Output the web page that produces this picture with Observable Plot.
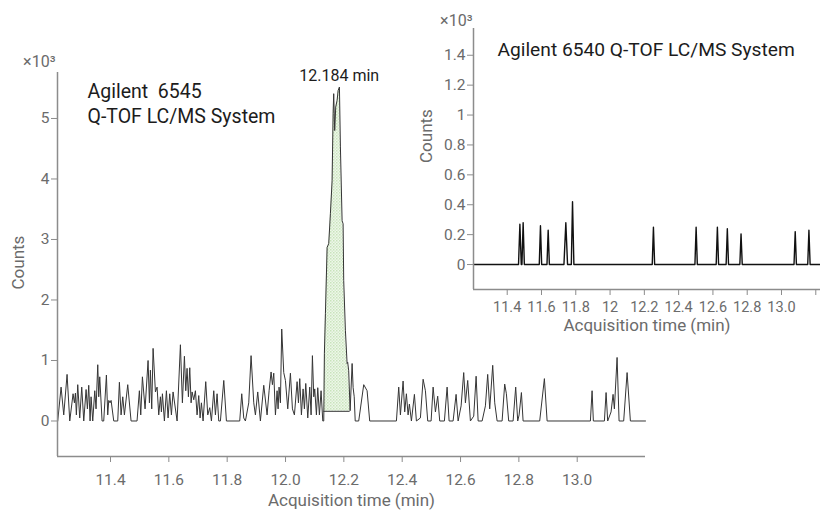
<!DOCTYPE html>
<html><head><meta charset="utf-8">
<script src="https://cdn.jsdelivr.net/npm/d3@7"></script>
<script src="https://cdn.jsdelivr.net/npm/@observablehq/plot@0.6"></script>
<style>
body{margin:0;background:#fff;}
#wrap{position:relative;width:820px;height:510px;}
#wrap svg{position:absolute;left:0;top:0;}
</style></head><body><div id="wrap"></div>
<script>
// ---- Main chromatogram (Agilent 6545), counts in thousands ----
const noiseBefore = [
[11.2191,0],[11.2306,0.56],[11.2397,0.1],[11.2511,0.77],[11.2603,0],[11.2717,0.45],[11.2763,0.3],[11.2797,0.46],[11.283,0.1],[11.2877,0.6],[11.2945,0.05],[11.3014,0.56],[11.3083,0],[11.3163,0.52],[11.3208,0.2],[11.3254,0.59],[11.33,0],[11.3334,0.4],[11.3391,0],[11.346,0.5],[11.3505,0.2],[11.3563,0.93],[11.3597,0.4],[11.3631,0.73],[11.3711,0],[11.3768,0],[11.386,0.76],[11.3905,0.1],[11.394,0.34],[11.3985,0.3],[11.402,0.34],[11.4111,0],[11.4248,0],[11.4305,0.64],[11.4363,0.1],[11.442,0.4],[11.4477,0.1],[11.4591,0.6],[11.4705,0],[11.491,0],[11.499,0.5],[11.5037,0.1],[11.5094,0.73],[11.5185,0.2],[11.5288,1.0],[11.5334,0.3],[11.5368,0.84],[11.5414,0.2],[11.546,1.2],[11.554,0.48],[11.5597,0.56],[11.5654,0.1],[11.5711,0.4],[11.5745,0.15],[11.578,0.45],[11.5848,0],[11.5917,0.5],[11.5974,0.05],[11.6031,0.45],[11.6088,0.1],[11.6145,0.48],[11.6283,0],[11.6397,1.26],[11.6465,0.3],[11.6534,1.07],[11.658,0.5],[11.6625,0.87],[11.6671,0.4],[11.6717,0.88],[11.6763,0.3],[11.6797,0.48],[11.6854,0.35],[11.6911,0.5],[11.6968,0.1],[11.7025,0.42],[11.7071,0.05],[11.7117,0.3],[11.7174,0],[11.7265,0.65],[11.7334,0.1],[11.7403,0.22],[11.746,0],[11.754,0.5],[11.7597,0.1],[11.7654,0.45],[11.7711,0],[11.7768,0],[11.7883,0.67],[11.7974,0],[11.843,0],[11.8499,0.45],[11.8568,0.05],[11.8625,0],[11.8739,0.3],[11.8819,1.08],[11.8911,0.3],[11.8968,0.1],[11.9048,0.48],[11.9139,0],[11.9254,0.59],[11.9368,0.1],[11.9437,0.5],[11.9505,0.81],[11.9551,0.6],[11.9597,0.79],[11.9654,0.1],[11.9711,0.5],[11.9745,0.2],[11.9779,0.56],[11.9825,0.3],[11.987,1.52],[11.9939,0.8],[11.9997,0.67],[12.0077,0.2],[12.0168,0.79],[12.0237,0.2],[12.0305,0.1],[12.0397,0.65],[12.0443,0.3],[12.0488,0.7],[12.0545,0.1],[12.0603,0.53],[12.0648,0.2],[12.0694,0.62],[12.0763,0.05],[12.0831,0.56],[12.0877,0.1],[12.0922,1.08],[12.0968,0.4],[12.1002,0.53],[12.1059,0.1],[12.1105,0.55],[12.1162,0.1],[12.1219,0.5],[12.1277,0],[12.1311,0]
];
const peakOutline = [
[12.1333,1.12],[12.1368,1.78],[12.1426,2.87],[12.1481,2.93],[12.1539,3.43],[12.1597,3.97],[12.1632,5.08],[12.1652,5.41],[12.1686,4.8],[12.1721,5.19],[12.1769,5.3],[12.1803,5.46],[12.1848,5.52],[12.1882,4.53],[12.194,3.31],[12.1974,3.26],[12.1995,2.32],[12.2053,1.5],[12.2111,0.95],[12.2132,0.97],[12.2166,0.83],[12.2215,0.17]
];
const noiseAfter = [
[12.2283,0.95],[12.2318,0.55],[12.2355,0.4],[12.2389,0],[12.2509,0],[12.2681,0.6],[12.2797,0.5],[12.2886,0],[12.3802,0],[12.3881,0.56],[12.3939,0.1],[12.4031,0.66],[12.4086,0.15],[12.4144,0.45],[12.4202,0.1],[12.4247,0.28],[12.4316,0],[12.4419,0.44],[12.4487,0],[12.4624,0.05],[12.4717,0.69],[12.4796,0.5],[12.4875,0],[12.4991,0],[12.506,0.56],[12.5139,0.15],[12.5217,0.41],[12.5286,0],[12.5447,0],[12.554,0.56],[12.5608,0],[12.5745,0],[12.5848,0.44],[12.5917,0],[12.602,0.25],[12.6109,0.8],[12.6167,0.3],[12.6246,0.67],[12.6338,0],[12.6452,0.08],[12.6534,0.74],[12.6603,0],[12.674,0],[12.6853,0.25],[12.6931,0.77],[12.7,0.2],[12.7103,0.92],[12.7172,0.3],[12.7254,0],[12.7425,0],[12.7514,0.61],[12.7572,0.45],[12.7651,0],[12.7802,0],[12.7891,0.56],[12.796,0],[12.8008,0.1],[12.8087,0.47],[12.8145,0],[12.8714,0],[12.8875,0.7],[12.8968,0],[13.0452,0],[13.051,0.5],[13.0554,0],[13.0932,0],[13.099,0.47],[13.1045,0],[13.116,0.15],[13.1229,0.44],[13.1274,0.2],[13.1367,1.05],[13.1435,0],[13.1593,0],[13.171,0.8],[13.1823,0],[13.2341,0]
];
// integration window of the 12.184 min peak
const peakStart = 12.1311, peakEnd = 12.2215, peakBaseline = 0.16, peakTime = 12.184;
const peakLabel = "12.184 min";
const mainXTicks = [11.4, 11.6, 11.8, 12.0, 12.2, 12.4, 12.6, 12.8, 13.0];
const mainYTicks = [0, 1, 2, 3, 4, 5];
const mainXDomain = [11.2183, 13.2341];
const mainYDomain = [-0.587, 5.76];
const mainTitle = "Agilent  6545\nQ-TOF LC/MS System";

// ---- Inset chromatogram (Agilent 6540), counts in thousands ----
const insetTrace = [
[11.2034,0],[11.466,0],[11.474,0.27],[11.482,0],[11.486,0],[11.493,0.28],[11.5,0],[11.587,0],[11.594,0.26],[11.601,0],[11.632,0],[11.639,0.23],[11.646,0],[11.731,0],[11.742,0.28],[11.752,0],[11.774,0],[11.781,0.42],[11.789,0],[12.246,0],[12.253,0.25],[12.26,0],[12.495,0],[12.502,0.25],[12.509,0],[12.619,0],[12.626,0.25],[12.633,0],[12.677,0],[12.684,0.24],[12.691,0],[12.757,0],[12.764,0.205],[12.771,0],[13.073,0],[13.08,0.22],[13.087,0],[13.153,0],[13.16,0.23],[13.167,0],[13.2275,0]
];
const insetXTicks = [11.4, 11.6, 11.8, 12, 12.2, 12.4, 12.6, 12.8, 13.0, 13.2];
const insetYTicks = [0, 0.2, 0.4, 0.6, 0.8, 1, 1.2, 1.4];
const insetXDomain = [11.2034, 13.2275];
const insetYDomain = [-0.167, 1.579];
const insetTitle = "Agilent 6540 Q-TOF LC/MS System";

const xLabel = "Acquisition time (min)";
const yLabel = "Counts";
const scaleNote = "×10³";

const FONT = "Roboto, 'Liberation Sans', sans-serif";
const axisGray = "#8c8c8c";
const labelGray = "#6b6b6b";
const inkColor = "#1c1c1c";

const toRows = arr => arr.map(([t, v]) => ({t, v}));
const mainRows = toRows([...noiseBefore, ...peakOutline, ...noiseAfter]);
const fillRows = toRows([[peakStart, peakBaseline], ...peakOutline]);

const main = Plot.plot({
  width: 820, height: 510,
  marginLeft: 57, marginRight: 175, marginTop: 72, marginBottom: 54,
  style: {fontFamily: FONT, fontSize: "15.5px", color: labelGray, background: "transparent", overflow: "visible"},
  x: {domain: mainXDomain},
  y: {domain: mainYDomain},
  marks: [
    Plot.areaY(fillRows, {x: "t", y1: peakBaseline, y2: "v", fill: "url(#peakfill)"}),
    Plot.ruleY([peakBaseline], {x1: peakStart, x2: peakEnd, stroke: "#333", strokeWidth: 1}),
    Plot.line(mainRows, {x: "t", y: "v", stroke: "#353535", strokeWidth: 1}),
    Plot.ruleX([mainXDomain[0]], {stroke: axisGray, strokeWidth: 1.5}),
    Plot.ruleY([mainYDomain[0]], {stroke: axisGray, strokeWidth: 1.5}),
    Plot.axisX({ticks: mainXTicks, tickFormat: d3.format(".1f"), tickSize: 6, tickPadding: 11, stroke: axisGray, label: null}),
    Plot.axisY({ticks: mainYTicks, tickFormat: d => String(d), tickSize: 6, tickPadding: 2, stroke: axisGray, label: null}),
    Plot.text([xLabel], {frameAnchor: "bottom", lineAnchor: "bottom", dy: 49.5, fontSize: 17, fill: labelGray}),
    Plot.text([yLabel], {frameAnchor: "left", rotate: -90, dx: -39, dy: 25, fontSize: 17, fill: labelGray}),
    Plot.text([scaleNote], {frameAnchor: "top-left", textAnchor: "end", lineAnchor: "bottom", dx: -2, dy: -6, fontSize: 16, fill: labelGray}),
    Plot.text([mainTitle], {frameAnchor: "top-left", textAnchor: "start", lineAnchor: "bottom", dx: 30, dy: 50.7, fontSize: 19.5, lineHeight: 1.3, fill: inkColor}),
    Plot.text([peakLabel], {x: peakTime, frameAnchor: "top", lineAnchor: "bottom", dy: 8, fontSize: 16, fill: inkColor})
  ]
});
// light dotted texture of the integrated peak area
d3.select(main).insert("defs", ":first-child").html(
  '<pattern id="peakfill" width="3" height="3" patternUnits="userSpaceOnUse">' +
  '<rect width="3" height="3" fill="#eef7ea"/><rect width="1.5" height="1.5" fill="#c8e3bb"/>' +
  '<rect x="1.5" y="1.5" width="1.5" height="1.5" fill="#d6ebcc"/></pattern>');

const inset = Plot.plot({
  width: 820, height: 510,
  marginLeft: 473, marginRight: 0, marginTop: 28, marginBottom: 221,
  style: {fontFamily: FONT, fontSize: "15.5px", color: labelGray, background: "transparent", overflow: "visible"},
  x: {domain: insetXDomain},
  y: {domain: insetYDomain},
  marks: [
    Plot.line(toRows(insetTrace), {x: "t", y: "v", stroke: "#111", strokeWidth: 1.4}),
    Plot.ruleX([insetXDomain[0]], {stroke: axisGray, strokeWidth: 1.5}),
    Plot.ruleY([insetYDomain[0]], {stroke: axisGray, strokeWidth: 1.5}),
    Plot.axisX({ticks: insetXTicks, tickFormat: d => d === 12 ? "12" : d === 13.2 ? "" : d.toFixed(1), tickSize: 6, tickPadding: 6, fontSize: 14.5, stroke: axisGray, label: null}),
    Plot.axisY({ticks: insetYTicks, tickFormat: d => (d === 0 || d === 1) ? String(d) : d.toFixed(1), tickSize: 6, tickPadding: 2, stroke: axisGray, label: null}),
    Plot.text([xLabel], {frameAnchor: "bottom", lineAnchor: "bottom", dy: 41, fontSize: 17, fill: labelGray}),
    Plot.text([yLabel], {frameAnchor: "left", rotate: -90, dx: -47, dy: 4, fontSize: 17, fill: labelGray}),
    Plot.text([scaleNote], {frameAnchor: "top-left", textAnchor: "end", lineAnchor: "bottom", dx: -1, dy: -3, fontSize: 16, fill: labelGray}),
    Plot.text([insetTitle], {frameAnchor: "top-left", textAnchor: "start", lineAnchor: "bottom", dx: 24, dy: 27, fontSize: 19.2, fill: inkColor})
  ]
});

const wrap = document.getElementById("wrap");
wrap.appendChild(main);
wrap.appendChild(inset);
</script>
</body></html>
